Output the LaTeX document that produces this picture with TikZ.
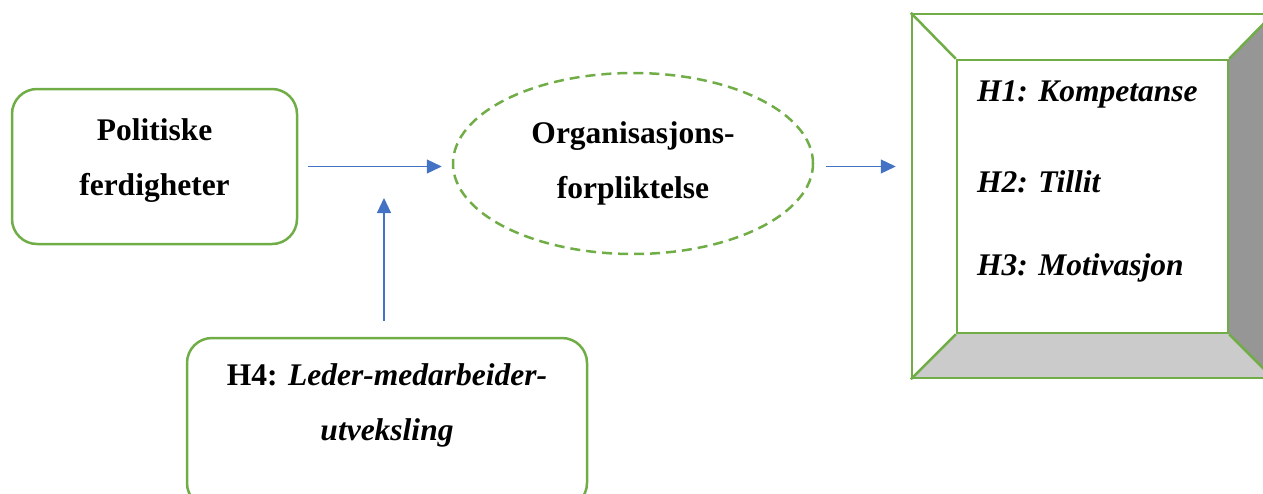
\documentclass[tikz,border=0pt]{standalone}
\usepackage{fontspec}
\setmainfont{Liberation Serif}
\usetikzlibrary{shapes.geometric,arrows.meta}
\definecolor{grn}{HTML}{70AD47}
\definecolor{blu}{HTML}{4472C4}
\definecolor{darkgr}{HTML}{969696}
\definecolor{lightgr}{HTML}{CBCBCB}
\begin{document}
\begin{tikzpicture}[x=1pt,y=-1pt,
  rbox/.style={draw=grn,line width=2.5pt,rounded corners=25pt,rectangle,inner sep=0pt},
  lbl/.style={font=\fontsize{31.5}{55}\selectfont\bfseries,align=center,inner sep=0pt},
  hyp/.style={font=\fontsize{31.5}{36}\selectfont\bfseries\itshape,anchor=west,inner sep=0pt},
  bevel/.style={draw=grn,line width=2.5pt,line join=miter},
  conn/.style={draw=blu,line width=1.2pt,-{Triangle[length=15pt,width=14pt]}}]
\useasboundingbox (0,0) rectangle (1263,493);
\begin{scope}
\clip (0,0) rectangle (1263,493);
% left box
\node[rbox,minimum width=285pt,minimum height=155pt] (p1) at (154.5,166.5) {};
\node[lbl] (p1t) at (154.5,160.5) {Politiske\\ferdigheter};
% ellipse
\node[ellipse,draw=grn,line width=2.5pt,dash pattern=on 10pt off 6pt,minimum width=360pt,minimum height=181pt,inner sep=0pt] (ell) at (633,163.5) {};
\node[lbl] (ellt) at (633,163) {Organisasjons-\\forpliktelse};
% bottom box
\node[rbox,minimum width=400pt,minimum height=170pt] (h4) at (387,423) {};
\node[lbl] (h4t) at (387,405) {H4: \textit{Leder-medarbeider-}\\\textit{utveksling}};
% bevel frame
\fill[darkgr] (1228,60) -- (1273,14) -- (1273,378) -- (1228,333) -- cycle;
\fill[lightgr] (957,333) -- (1228,333) -- (1273,378) -- (912,378) -- cycle;
\node[rectangle,bevel,minimum width=361pt,minimum height=364pt,inner sep=0pt] (frame) at (1092.5,196) {};
\node[rectangle,bevel,minimum width=271pt,minimum height=273pt,inner sep=0pt] (inner) at (1092.5,196.5) {};
\draw[bevel] (frame.north west) -- (inner.north west);
\draw[bevel] (frame.north east) -- (inner.north east);
\draw[bevel] (frame.south west) -- (inner.south west);
\draw[bevel] (frame.south east) -- (inner.south east);
\node[hyp] (h1) at (977,94) {H1: Kompetanse};
\node[hyp] (h2) at (977,182) {H2: Tillit};
\node[hyp] (h3) at (977,268) {H3: Motivasjon};
% connectors
\draw[conn,shorten <=10pt,shorten >=10pt] (p1.east) -- (ell.west |- p1.east);
\draw[conn,shorten <=12pt,shorten >=15pt] (ell.east |- p1.east) -- (frame.west |- p1.east);
\coordinate (m) at (384,198);
\draw[conn,shorten <=16pt] (h4.north -| m) -- (m);
\end{scope}
\end{tikzpicture}
\end{document}
